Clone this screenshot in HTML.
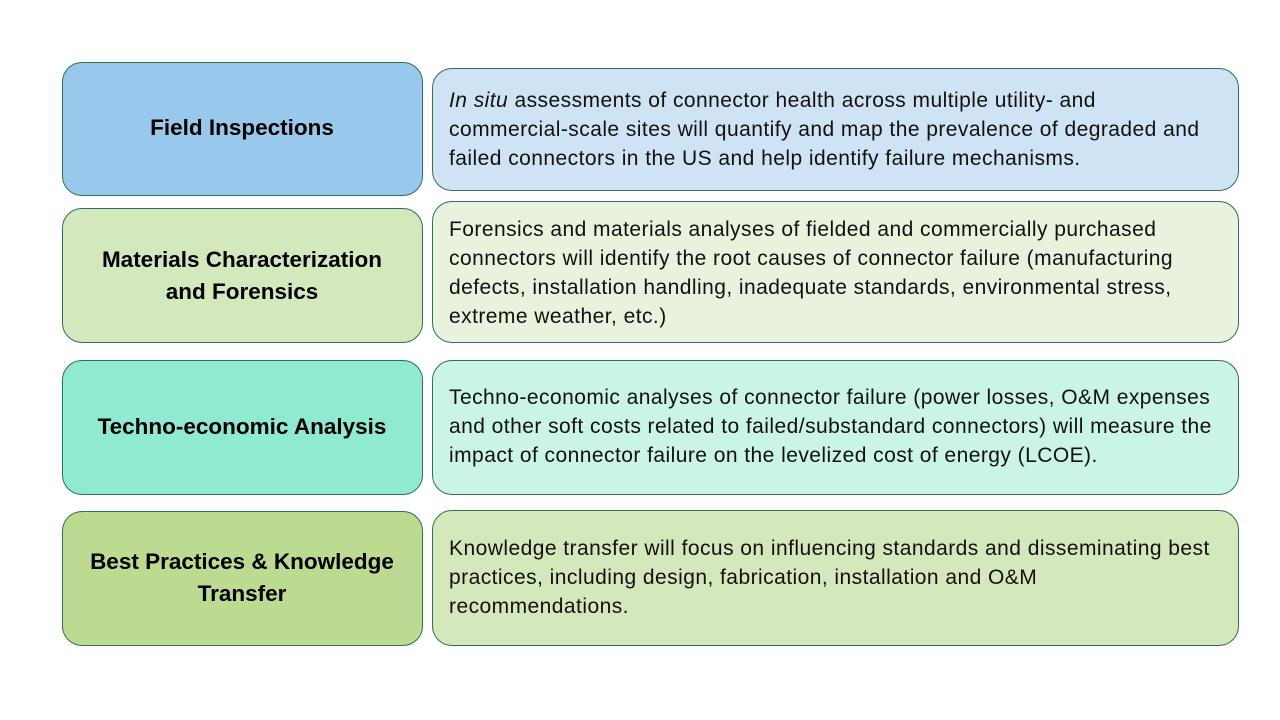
<!DOCTYPE html>
<html><head><style>
body{margin:0;width:1280px;height:720px;background:#fff;position:relative;font-family:"Liberation Sans",sans-serif;overflow:hidden}
.b{position:absolute;box-sizing:border-box;border:1.3px solid #2f6f55;border-radius:20px}
.t{position:absolute;left:62px;width:360px;text-align:center;font-weight:bold;font-size:22.5px;line-height:32px;color:#000}
.l{position:absolute;left:449px;font-size:21px;letter-spacing:0.45px;line-height:29px;white-space:nowrap;color:#111}
</style></head><body>
<div class="b" style="left:62px;top:62px;width:361px;height:134px;background:#99c8ed"></div>
<div class="b" style="left:432px;top:68px;width:807px;height:123px;background:#cfe3f5"></div>
<div class="b" style="left:62px;top:208px;width:361px;height:135px;background:#d3e8bd"></div>
<div class="b" style="left:432px;top:201px;width:807px;height:142px;background:#e9f2dc"></div>
<div class="b" style="left:62px;top:360px;width:361px;height:135px;background:#90e9d1"></div>
<div class="b" style="left:432px;top:360px;width:807px;height:135px;background:#c9f4e7"></div>
<div class="b" style="left:62px;top:511px;width:361px;height:135px;background:#bcda90"></div>
<div class="b" style="left:432px;top:510px;width:807px;height:136px;background:#d5e8bb"></div>

<div class="t" style="top:112px">Field Inspections</div>
<div class="t" style="top:244px">Materials Characterization<br>and Forensics</div>
<div class="t" style="top:411px">Techno-economic Analysis</div>
<div class="t" style="top:546px">Best Practices &amp; Knowledge<br>Transfer</div>

<div class="l" style="top:86px"><i>In situ</i> assessments of connector health across multiple utility- and</div>
<div class="l" style="top:115px">commercial-scale sites will quantify and map the prevalence of degraded and</div>
<div class="l" style="top:144px">failed connectors in the US and help identify failure mechanisms.</div>

<div class="l" style="top:215px">Forensics and materials analyses of fielded and commercially purchased</div>
<div class="l" style="top:244px">connectors will identify the root causes of connector failure (manufacturing</div>
<div class="l" style="top:273px">defects, installation handling, inadequate standards, environmental stress,</div>
<div class="l" style="top:302px">extreme weather, etc.)</div>

<div class="l" style="top:383px">Techno-economic analyses of connector failure (power losses, O&amp;M expenses</div>
<div class="l" style="top:412px">and other soft costs related to failed/substandard connectors) will measure the</div>
<div class="l" style="top:441px">impact of connector failure on the levelized cost of energy (LCOE).</div>

<div class="l" style="top:534px">Knowledge transfer will focus on influencing standards and disseminating best</div>
<div class="l" style="top:563px">practices, including design, fabrication, installation and O&amp;M</div>
<div class="l" style="top:592px">recommendations.</div>
</body></html>
